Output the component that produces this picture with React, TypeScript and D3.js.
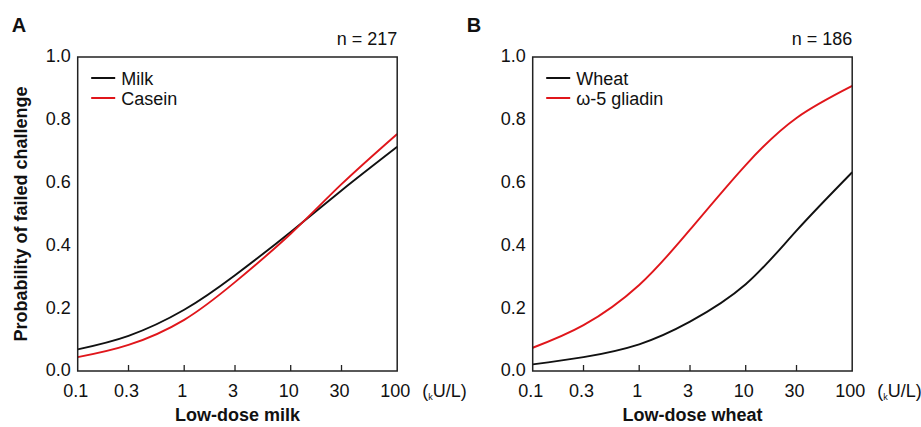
import React, { useEffect, useRef } from "react";
import * as d3 from "d3";

// allergen component dose (kU/L) at the tick positions
const doses = [0.1, 0.3, 1, 3, 10, 30, 100];
const doseLabels = ["0.1", "0.3", "1", "3", "10", "30", "100"];
const probTicks = [0, 0.2, 0.4, 0.6, 0.8, 1.0];

// probability of failed challenge at each dose
const milk = [0.069, 0.112, 0.195, 0.305, 0.443, 0.575, 0.714];
const casein = [0.044, 0.083, 0.163, 0.283, 0.437, 0.595, 0.755];
const wheat = [0.021, 0.044, 0.085, 0.157, 0.276, 0.447, 0.633];
const gliadin = [0.074, 0.146, 0.274, 0.45, 0.656, 0.806, 0.908];

const panelLetters = ["A", "B"];
const panelN = ["n = 217", "n = 186"];
const panelXLabels = ["Low-dose milk", "Low-dose wheat"];
const panelSeries = [
  [
    { name: "Milk", values: milk, color: "#111" },
    { name: "Casein", values: casein, color: "#e0161b" },
  ],
  [
    { name: "Wheat", values: wheat, color: "#111" },
    { name: "ω-5 gliadin", values: gliadin, color: "#e0161b" },
  ],
];

const App = () => {
  const ref = useRef<SVGSVGElement>(null);

  useEffect(() => {
    const svg = d3.select(ref.current);
    svg.selectAll("*").remove();

    const width = 921;
    const height = 427;
    const top = 57;
    const bottom = 371;
    const plotW = 319.5;
    const panelLeft = [77.7, 532.7];
    const font = "'Liberation Sans', Arial, Helvetica, sans-serif";

    svg
      .attr("width", width)
      .attr("height", height)
      .style("font-family", font);

    svg.append("rect").attr("width", width).attr("height", height).attr("fill", "#fff");

    // y axis title (shared, left side)
    svg
      .append("text")
      .attr("transform", `translate(27,${(top + bottom) / 2}) rotate(-90)`)
      .attr("text-anchor", "middle")
      .attr("font-size", 18)
      .attr("font-weight", "bold")
      .attr("fill", "#111")
      .text("Probability of failed challenge");

    panelLetters.forEach((letter, i) => {
      const left = panelLeft[i];
      const x = d3.scaleLog().domain([0.1, 100]).range([left, left + plotW]);
      const y = d3.scaleLinear().domain([0, 1]).range([bottom, top]);
      const g = svg.append("g");

      // panel letter + n
      g.append("text")
        .attr("x", left - 66)
        .attr("y", 32)
        .attr("font-size", 20)
        .attr("font-weight", "bold")
        .attr("fill", "#111")
        .text(letter);

      g.append("text")
        .attr("x", left + plotW)
        .attr("y", 45)
        .attr("text-anchor", "end")
        .attr("font-size", 18)
        .attr("fill", "#111")
        .text(panelN[i]);

      // curves
      const line = d3
        .line<number>()
        .x((_, j) => x(doses[j]))
        .y((d) => y(d))
        .curve(d3.curveNatural);

      panelSeries[i].forEach((s) => {
        g.append("path")
          .datum(s.values)
          .attr("fill", "none")
          .attr("stroke", s.color)
          .attr("stroke-width", 1.9)
          .attr("d", line);
      });

      // frame
      g.append("rect")
        .attr("x", left)
        .attr("y", top)
        .attr("width", plotW)
        .attr("height", bottom - top)
        .attr("fill", "none")
        .attr("stroke", "#222")
        .attr("stroke-width", 1.5);

      // x ticks (inside) and labels
      g.selectAll(".xtick")
        .data(doses.slice(1, -1))
        .join("line")
        .attr("x1", (d) => x(d))
        .attr("x2", (d) => x(d))
        .attr("y1", bottom)
        .attr("y2", bottom - 6)
        .attr("stroke", "#222")
        .attr("stroke-width", 1.3);

      g.selectAll(".xlab")
        .data(doses)
        .join("text")
        .attr("x", (d) => x(d) - 2)
        .attr("y", 397)
        .attr("text-anchor", "middle")
        .attr("font-size", 18)
        .attr("fill", "#111")
        .text((_, j) => doseLabels[j]);

      // unit label
      const unit = g
        .append("text")
        .attr("x", left + plotW + 25)
        .attr("y", 397)
        .attr("font-size", 18)
        .attr("fill", "#111");
      unit.append("tspan").text("(");
      unit.append("tspan").attr("font-size", 9).attr("dy", 3).text("k");
      unit.append("tspan").attr("dy", -3).text("U/L)");

      // y tick labels
      g.selectAll(".ylab")
        .data(probTicks)
        .join("text")
        .attr("x", left - 7)
        .attr("y", (d) => y(d))
        .attr("dy", "0.3em")
        .attr("text-anchor", "end")
        .attr("font-size", 18)
        .attr("fill", "#111")
        .text((d) => d.toFixed(1));

      // x axis title
      g.append("text")
        .attr("x", left + plotW / 2)
        .attr("y", 421)
        .attr("text-anchor", "middle")
        .attr("font-size", 18)
        .attr("font-weight", "bold")
        .attr("fill", "#111")
        .text(panelXLabels[i]);

      // legend
      panelSeries[i].forEach((s, k) => {
        const ly = 78 + k * 20;
        g.append("line")
          .attr("x1", left + 13.5)
          .attr("x2", left + 37.5)
          .attr("y1", ly)
          .attr("y2", ly)
          .attr("stroke", s.color)
          .attr("stroke-width", 2);
        g.append("text")
          .attr("x", left + 43.5)
          .attr("y", ly + 6.5)
          .attr("font-size", 18)
          .attr("fill", "#111")
          .text(s.name);
      });
    });
  }, []);

  return (
    <svg
      ref={ref}
      style={{ position: "absolute", left: 0, top: 0, display: "block" }}
    ></svg>
  );
};

export default App;
